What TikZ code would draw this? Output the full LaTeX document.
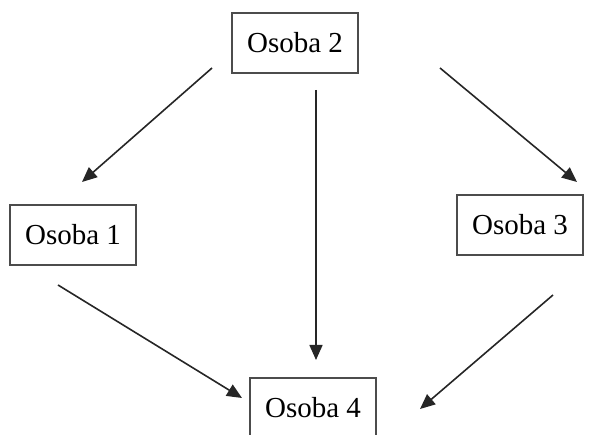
\documentclass[tikz,border=0pt]{standalone}
\usepackage{fontspec}
\setmainfont{Liberation Serif}
\usetikzlibrary{arrows.meta,positioning}

\begin{document}
\begin{tikzpicture}[
    x=1pt, y=-1pt,
    box/.style={rectangle, draw=black!70, line width=1.2pt, minimum width=126pt, minimum height=60pt, inner sep=0pt, align=center, font=\fontsize{29}{34}\selectfont},
    arrow/.style={-{Triangle[length=15pt,width=13pt]}, line width=1.6pt, draw=black!85}
]
\useasboundingbox (0,0) rectangle (605,435);

% Persons
\node[box] (osoba2) at (295,43) {Osoba 2};
\node[box] (osoba1) at (73,235) {Osoba 1};
\node[box] (osoba3) at (520,225) {Osoba 3};
\node[box] (osoba4) at (313,408) {Osoba 4};

% Arrow ends (arrows stop short of the boxes)
\coordinate (a12) at (212,68);  \coordinate (b12) at (82,182);
\coordinate (a24) at (316,90);  \coordinate (b24) at (316,360);
\coordinate (a23) at (440,68);  \coordinate (b23) at (577,182);
\coordinate (a14) at (58,285);  \coordinate (b14) at (242,398);
\coordinate (a34) at (553,295); \coordinate (b34) at (420,409);

% Connections
\draw[arrow] (a12) -- (b12);
\draw[arrow] (a24) -- (b24);
\draw[arrow] (a23) -- (b23);
\draw[arrow] (a14) -- (b14);
\draw[arrow] (a34) -- (b34);

\end{tikzpicture}
\end{document}
